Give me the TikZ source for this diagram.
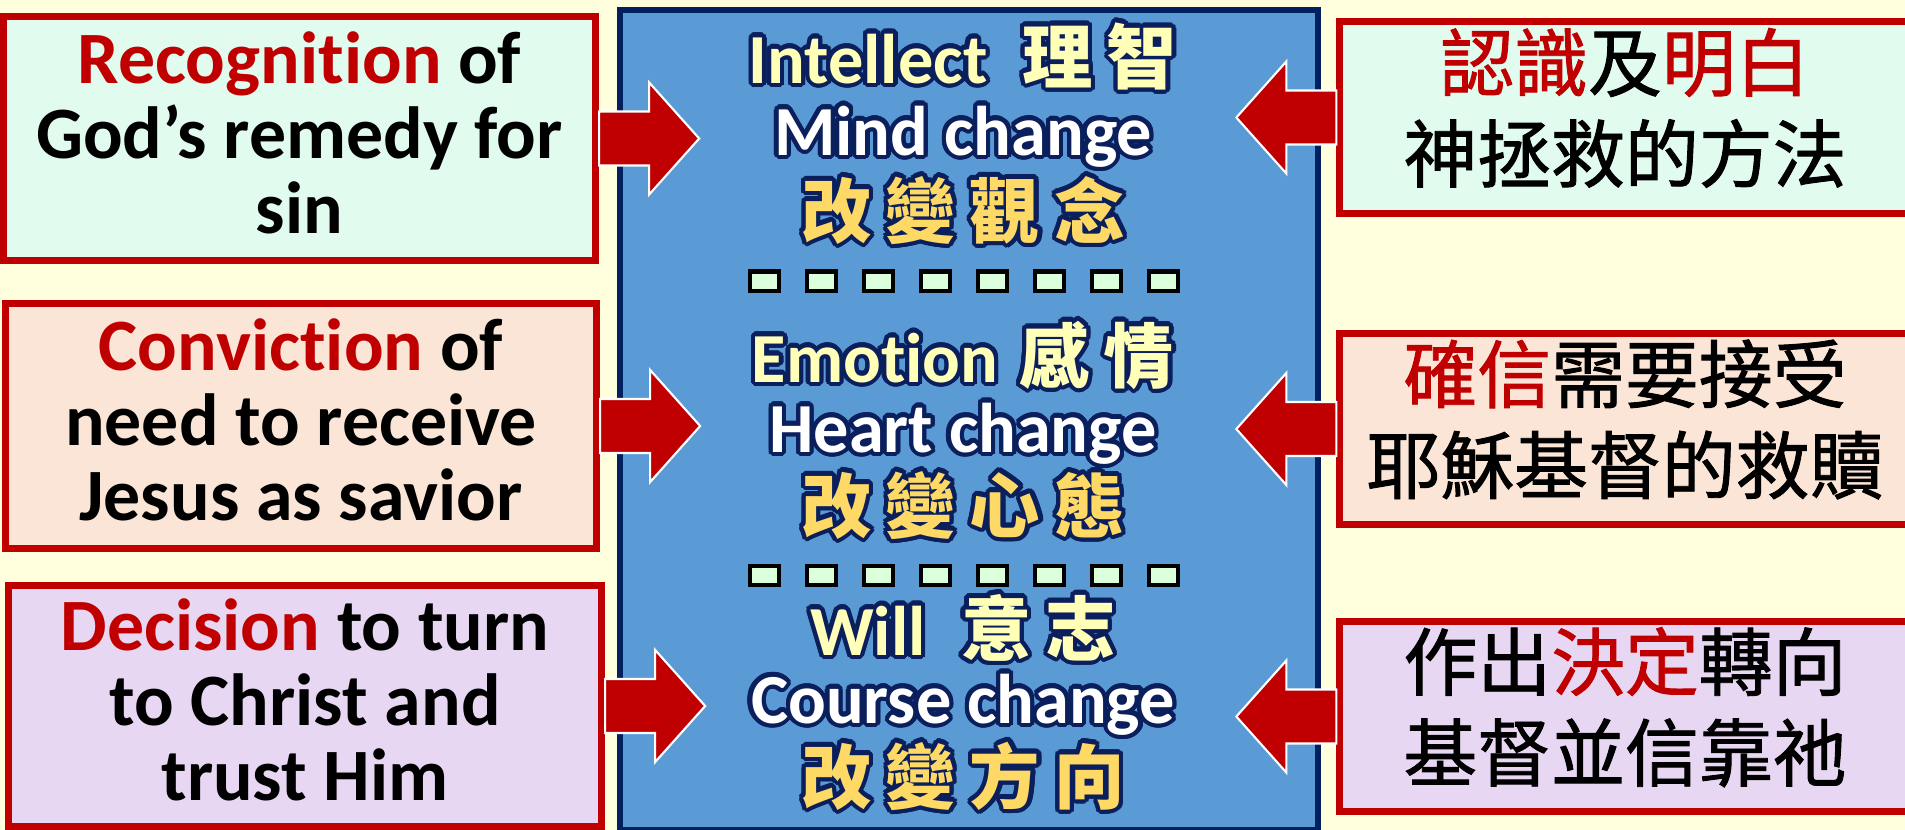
\documentclass[tikz,border=0pt]{standalone}
\usepackage{fontspec}
\setmainfont{Carlito}[Ligatures={NoCommon}]
\newfontfamily\cjk{Noto Sans CJK TC}
\newfontfamily\cjkmed{Noto Sans CJK TC}[FakeBold=1.2]
\usepackage[copies]{contour}
\contourlength{1.2pt}
\contournumber{24}
\usetikzlibrary{positioning}

\definecolor{bgyel}{HTML}{FFFFDD}
\definecolor{bred}{HTML}{C00000}
\definecolor{mint}{HTML}{E1FBEF}
\definecolor{peach}{HTML}{FBE5D7}
\definecolor{lilac}{HTML}{E7D7F2}
\definecolor{midblue}{HTML}{5B9BD5}
\definecolor{navy}{HTML}{002060}
\definecolor{glowblue}{HTML}{0A1F5C}
\definecolor{txtyel}{HTML}{FFFFB8}
\definecolor{gold}{HTML}{FFD966}
\definecolor{sqgreen}{HTML}{DAFFDA}

\newcommand{\hl}[1]{\textcolor{bred}{#1}}
\newcommand{\glow}[2]{\contour{glowblue}{\textcolor{#1}{#2}}}
\newcommand{\gp}{\hspace{0.2em}}
\newcommand{\tstrut}{\rule{0pt}{17.6pt}}

\tikzset{
	sidebox/.style={draw=bred, line width=0.07cm, align=center, inner sep=0pt,
		font=\fontsize{21pt}{21.3pt}\selectfont\bfseries},
	zhbox/.style={sidebox, minimum width=5.7cm,
		font=\fontsize{21pt}{23.9pt}\selectfont\cjkmed},
	core/.style={draw=navy, fill=midblue, line width=0.06cm,
		minimum width=6.98cm, minimum height=8.2cm, inner sep=0pt},
	midline/.style={anchor=base, inner sep=0pt,
		font=\fontsize{20pt}{24pt}\selectfont\bfseries},
	sepsquare/.style={draw=black, fill=sqgreen, line width=0.04cm,
		minimum width=0.29cm, minimum height=0.19cm, inner sep=0pt},
	blockarrow/.pic={
		\filldraw[fill=bred, draw=white, line width=0.6pt]
		(0,-27) -- (50,-27) -- (50,-56) -- (100,0) -- (50,56) -- (50,27) -- (0,27) -- cycle;
	}
}

\begin{document}
\begin{tikzpicture}[x=0.01cm, y=-0.01cm]
		\useasboundingbox (0,0) rectangle (1905,830);
		\fill[bgyel] (0,0) rectangle (1905,830);
		\node[core] (core) at (969,420) {};

		\node[sidebox, fill=mint, minimum width=5.92cm, minimum height=2.44cm] (recog) at (299.5,138.5)
			{\tstrut\hl{Recognition} of\\God’s remedy for\\sin\strut};
		\node[sidebox, fill=peach, minimum width=5.91cm, minimum height=2.45cm] (convic) at (301,426)
			{\tstrut\hl{Conviction} of\\need to receive\\Jesus as savior\strut};
		\node[sidebox, fill=lilac, minimum width=5.93cm, minimum height=2.41cm] (decis) at (305,706)
			{\tstrut\hl{Decision} to turn\\to Christ and\\trust Him\strut};

		\node[zhbox, fill=mint, minimum height=1.92cm] (renshi) at (1625,117.5)
			{\strut\hl{認識}及\hl{明白}\\神拯救的方法\strut};
		\node[zhbox, fill=peach, minimum height=1.91cm] (quexin) at (1625,429)
			{\strut\hl{確信}需要接受\\耶穌基督的救贖\strut};
		\node[zhbox, fill=lilac, minimum height=1.90cm] (jueding) at (1625,716.5)
			{\strut 作出\hl{決定}轉向\\基督並信靠祂\strut};

		\pic at (recog.east) {blockarrow};
		\pic at (convic.east) {blockarrow};
		\pic at (decis.east) {blockarrow};
		\pic[xscale=-1] at (renshi.west) {blockarrow};
		\pic[xscale=-1] at (quexin.west) {blockarrow};
		\pic[xscale=-1] at (jueding.west) {blockarrow};

		\node[midline] (intellect) at (963,83) {\glow{txtyel}{Intellect\hspace{0.5em}{\cjk 理\gp 智}}};
		\node[midline] (mind) at (963,155) {\glow{white}{Mind change}};
		\node[midline] (mindzh) at (963,237) {\glow{gold}{\cjk 改\gp 變\gp 觀\gp 念}};
		\node[midline] (emotion) at (963,382) {\glow{txtyel}{Emotion\hspace{0.3em}{\cjk 感\gp 情}}};
		\node[midline] (heart) at (963,452) {\glow{white}{Heart change}};
		\node[midline] (heartzh) at (963,532) {\glow{gold}{\cjk 改\gp 變\gp 心\gp 態}};
		\node[midline] (will) at (963,655) {\glow{txtyel}{Will\hspace{0.5em}{\cjk 意\gp 志}}};
		\node[midline] (course) at (963,723) {\glow{white}{Course change}};
		\node[midline] (coursezh) at (963,803) {\glow{gold}{\cjk 改\gp 變\gp 方\gp 向}};

		\foreach \k in {0,...,7} {
			\node[sepsquare] (sepA\k) at (764.5+57*\k,281) {};
			\node[sepsquare] (sepB\k) at (764.5+57*\k,575) {};
		}
\end{tikzpicture}
\end{document}
